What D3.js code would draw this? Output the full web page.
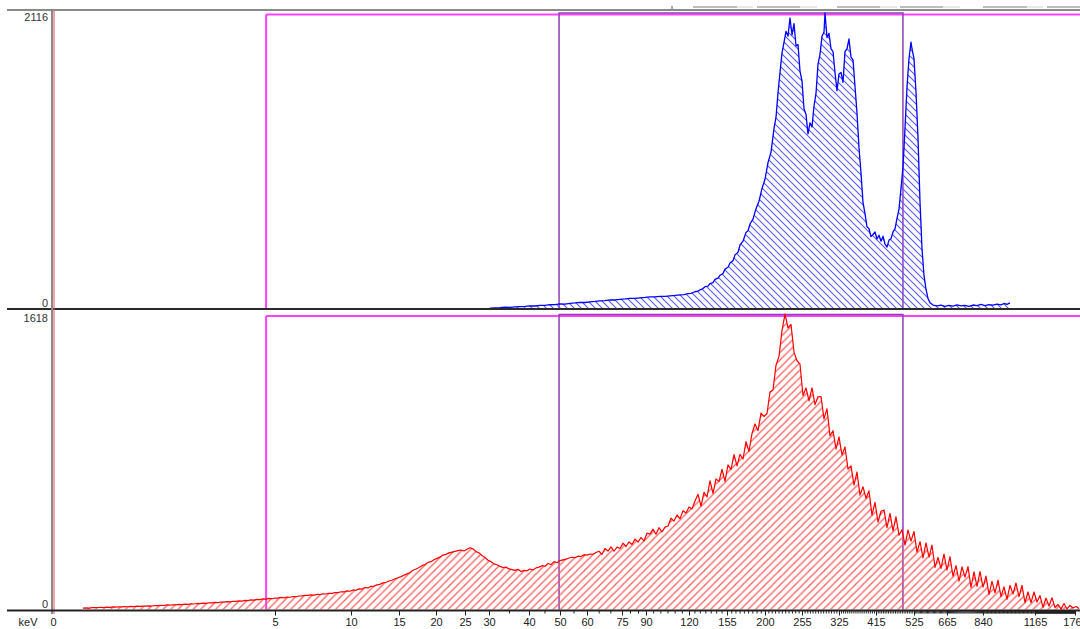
<!DOCTYPE html>
<html><head><meta charset="utf-8">
<script src="https://cdn.jsdelivr.net/npm/d3@7"></script>
<style>
body{margin:0;background:#fff;overflow:hidden}
svg{display:block}
text{font-family:"Liberation Sans",Arial,sans-serif}
</style>
</head><body>
<svg id="chart" width="1080" height="629"></svg>
<script>
// ---------------- DATA ----------------
// energy calibration: labelled tick energies (keV) and the channel at which each sits
const tickLabelsKeV = [0,5,10,15,20,25,30,40,50,60,75,90,120,155,200,255,325,415,525,665,840,1165,1760];
const tickChannels  = [0,222,298,346,383,412,436,476,507,534,569,593,636,674,712,749,786,823,861,894,930,982,1022];
const minorTickStepKeV = 5;
const axisUnit = "keV";

const topMaxCount = 2116;
const bottomMaxCount = 1618;

// regions of interest (keV)
const roiWideKeV = [4.8, 1760];
const roiNarrowKeV = [49.7, 493];

// top spectrum (blue): [channel, counts]
const blueSpectrum = [
[437,3],[442,5],[447,6],[452,9],[457,8],[462,12],[467,14],[472,15],[477,19],[482,18],[487,23],[492,22],[497,27],[502,28],[507,33],[512,32],[517,37],[522,40],[527,44],[532,43],[537,48],[542,51],[547,55],[552,57],[557,62],[562,61],[567,66],[572,69],[577,73],[582,72],[587,76],[592,79],[597,83],[602,83],[607,87],[612,87],[617,91],[622,94],[627,98],[631,100],[635,106],[638,109],[642,120],[645,124],[647,134],[650,143],[652,156],[655,160],[657,178],[660,186],[662,208],[665,218],[667,238],[670,250],[672,282],[675,295],[677,326],[680,342],[682,384],[685,402],[687,455],[690,482],[693,545],[695,556],[697,605],[700,640],[703,715],[706,768],[709,860],[712,925],[715,1045],[718,1120],[721,1290],[723,1370],[725,1545],[727,1690],[729,1830],[731,1905],[733,1985],[735,1950],[737,2080],[739,1960],[741,2040],[743,1880],[745,1890],[747,1700],[749,1630],[751,1430],[753,1390],[755,1250],[757,1330],[759,1300],[761,1450],[763,1540],[765,1750],[767,1820],[769,1950],[771,1980],[772,2116],[774,1940],[776,1970],[778,1860],[780,1840],[782,1690],[784,1560],[786,1680],[788,1690],[790,1620],[792,1840],[794,1860],[796,1930],[798,1800],[800,1780],[802,1590],[804,1400],[806,1150],[808,970],[810,760],[812,680],[814,585],[816,572],[818,515],[820,530],[822,548],[824,498],[826,525],[828,482],[830,518],[832,462],[834,440],[836,490],[838,500],[840,548],[842,570],[844,645],[846,712],[848,860],[850,1015],[852,1290],[854,1585],[856,1790],[858,1908],[859,1860],[861,1790],[863,1550],[865,1220],[867,765],[869,430],[871,235],[873,138],[875,72],[877,42],[880,25],[884,18],[888,24],[892,15],[896,22],[900,17],[904,26],[908,19],[912,23],[916,16],[920,25],[924,20],[928,29],[932,21],[936,27],[940,24],[944,32],[948,26],[951,36],[954,29],[957,40]
];

// bottom spectrum (red): counts every redChannelStep channels from redStartChannel
const redStartChannel = 30;
const redChannelStep = 3;
const redCounts = [
8,9,8,10,10,11,12,11,13,12,14,13,15,14,16,15,17,16,18,17,19,18,20,19,22,21,23,22,25,24,26,25,28,27,29,28,31,30,33,32,
35,34,37,36,39,38,41,40,43,42,45,44,47,46,50,49,53,51,55,54,58,57,61,59,63,62,66,64,68,67,71,70,74,
75,78,77,80,79,83,82,86,85,89,88,93,92,97,96,102,100,107,105,113,112,120,118,127,128,135,138,146,149,156,160,168,174,
180,188,195,203,215,222,230,240,246,258,262,272,280,287,298,302,310,314,318,322,326,320,330,338,332,318,310,296,285,270,262,250,245,
236,230,232,222,218,214,220,208,214,212,222,216,228,232,240,236,252,246,262,256,268,272,276,282,286,284,292,290,300,298,304,302,312,
319,302,334,320,343,319,342,334,363,345,370,356,386,369,394,376,418,413,440,412,448,425,452,457,500,484,518,496,541,528,561,551,594,
631,566,641,616,705,636,715,700,768,701,792,766,848,786,849,824,919,865,964,1016,979,1075,1057,1073,1191,1202,1338,1386,1527,1618,1542,1561,1409,
1362,1343,1172,1213,1143,1213,1122,1165,1166,1044,1099,951,979,879,945,846,890,769,786,681,753,626,672,609,650,517,587,479,538,545,448,527,431,
508,407,437,353,435,374,427,314,372,283,365,287,353,231,285,225,303,215,289,182,240,155,234,177,235,121,206,127,207,123,183,83,154,
91,161,71,124,56,132,85,145,71,132,37,96,38,96,41,76,12,63,19,64,11,28,2,33,3,22,8,16,6
];

// ---------------- LAYOUT ----------------
const W = 1080, H = 629;
const frameLeft = 7;
const plotLeft = 53, plotRight = 1080;
const topPanel = {y0: 308.5, yMax: 13};
const botPanel = {y0: 609.5, yMax: 314};
const topBorderY = 10, separatorY = 309, axisY = 610.5;
const rulerY = 7;
const rulerDark = [[693,737],[757,800],[837,880],[900,943],[983,1027],[1047,1080]];
const rulerLight = [[737,753],[800,817],[880,897],[943,960],[1027,1043]];

const svg = d3.select("#chart");
const defs = svg.append("defs");

defs.append("pattern").attr("id","hatchBlue").attr("patternUnits","userSpaceOnUse")
  .attr("width",7).attr("height",7)
  .append("path").attr("d","M-1,6 l2,2 M0,0 l7,7 M6,-1 l2,2")
  .attr("stroke","#5a5aff").attr("stroke-width",1.1).attr("fill","none");
defs.append("pattern").attr("id","hatchRed").attr("patternUnits","userSpaceOnUse")
  .attr("width",7.5).attr("height",7.5)
  .append("path").attr("d","M-1,1 l2,-2 M0,7.5 l7.5,-7.5 M6.5,8.5 l2,-2")
  .attr("stroke","#ff5a5a").attr("stroke-width",1.2).attr("fill","none");

// scales
const x = d3.scaleLinear().domain([0, plotRight - plotLeft]).range([plotLeft, plotRight]);
const keVtoChannel = d3.scaleLinear().domain(tickLabelsKeV).range(tickChannels);
const xE = e => x(keVtoChannel(e));
const yTop = d3.scaleLinear().domain([0, topMaxCount]).range([topPanel.y0, topPanel.yMax]);
const yBot = d3.scaleLinear().domain([0, bottomMaxCount]).range([botPanel.y0, botPanel.yMax]);

// ruler decoration at very top
const ruler = svg.append("g");
rulerDark.forEach(s => ruler.append("line").attr("x1",s[0]).attr("x2",s[1]).attr("y1",rulerY).attr("y2",rulerY).attr("stroke","#7a7a7a").attr("stroke-width",1));
rulerLight.forEach(s => ruler.append("line").attr("x1",s[0]).attr("x2",s[1]).attr("y1",rulerY).attr("y2",rulerY).attr("stroke","#d0d0d0").attr("stroke-width",1));
ruler.append("line").attr("x1",672).attr("x2",672).attr("y1",6).attr("y2",9).attr("stroke","#555");

// ROI rectangles
function roi(panel, yTopLine) {
  const g = svg.append("g");
  const xl = xE(roiWideKeV[0]);
  g.append("line").attr("x1",xl).attr("x2",W).attr("y1",yTopLine+1.5).attr("y2",yTopLine+1.5)
    .attr("stroke","#ff40ff").attr("stroke-width",2);
  g.append("line").attr("x1",xl).attr("x2",xl).attr("y1",yTopLine+1.5).attr("y2",panel.y0)
    .attr("stroke","#ff40ff").attr("stroke-width",2);
  const a = xE(roiNarrowKeV[0]), b = xE(roiNarrowKeV[1]);
  g.append("path").attr("d",`M${a},${panel.y0}V${yTopLine}H${b}V${panel.y0}`)
    .attr("fill","none").attr("stroke","#9040b8").attr("stroke-width",1.5);
}
roi(topPanel, 13);
roi(botPanel, 314.5);

// spectra
const blueArea = d3.area().x(d => x(d[0])).y0(yTop(0)).y1(d => yTop(d[1]));
const blueLine = d3.line().x(d => x(d[0])).y(d => yTop(d[1]));
svg.append("path").datum(blueSpectrum).attr("d",blueArea).attr("fill","url(#hatchBlue)");
svg.append("path").datum(blueSpectrum).attr("d",blueLine).attr("fill","none")
  .attr("stroke","#0000ff").attr("stroke-width",1.3).attr("stroke-linejoin","round");

const redSpectrum = redCounts.map((c,i) => [redStartChannel + i*redChannelStep, c]);
const redArea = d3.area().x(d => x(d[0])).y0(yBot(0)).y1(d => yBot(d[1]));
const redLine = d3.line().x(d => x(d[0])).y(d => yBot(d[1]));
svg.append("path").datum(redSpectrum).attr("d",redArea).attr("fill","url(#hatchRed)");
svg.append("path").datum(redSpectrum).attr("d",redLine).attr("fill","none")
  .attr("stroke","#ff0000").attr("stroke-width",1.2).attr("stroke-linejoin","round");

// frame lines
svg.append("line").attr("x1",frameLeft).attr("x2",W).attr("y1",topBorderY).attr("y2",topBorderY)
  .attr("stroke","#8a8a8a").attr("stroke-width",2);
svg.append("line").attr("x1",frameLeft).attr("x2",W).attr("y1",separatorY).attr("y2",separatorY)
  .attr("stroke","#2a2a2a").attr("stroke-width",2);
svg.append("line").attr("x1",plotLeft-1).attr("x2",plotLeft-1).attr("y1",topBorderY).attr("y2",614)
  .attr("stroke","#8a8a8a").attr("stroke-width",2);
svg.append("line").attr("x1",plotLeft+1).attr("x2",plotLeft+1).attr("y1",topBorderY+1).attr("y2",614)
  .attr("stroke","#e05050").attr("stroke-width",1);

// y labels via axes
function yLabels(scale, maxV) {
  const g = svg.append("g").attr("transform",`translate(${plotLeft-4},0)`)
    .call(d3.axisLeft(scale).tickValues([0, maxV]).tickSize(0).tickPadding(1).tickFormat(d3.format("d")));
  g.select(".domain").remove();
  g.selectAll("text").attr("font-size",11).attr("fill","#333").attr("font-family","Liberation Sans, Arial, sans-serif")
    .attr("dy", d => d === 0 ? "-0.15em" : "0.72em");
}
yLabels(yTop, topMaxCount);
yLabels(yBot, bottomMaxCount);

// x axis
const minorKeV = d3.range(minorTickStepKeV, tickLabelsKeV[tickLabelsKeV.length-1] + 1, minorTickStepKeV)
  .filter(e => !tickLabelsKeV.includes(e));
const gMinor = svg.append("g").attr("transform",`translate(0,${axisY})`)
  .call(d3.axisBottom(x).tickValues(minorKeV.map(e => keVtoChannel(e))).tickSize(3).tickFormat(""));
gMinor.select(".domain").remove();
gMinor.selectAll("line").attr("stroke","#222");
const gMajor = svg.append("g").attr("transform",`translate(0,${axisY})`)
  .call(d3.axisBottom(x).tickValues(tickChannels).tickSize(5).tickPadding(3)
        .tickFormat((d,i) => tickLabelsKeV[i]));
gMajor.select(".domain").remove();
gMajor.selectAll("line").attr("stroke","#222");
gMajor.selectAll("text").attr("font-size",11).attr("fill","#222").attr("font-family","Liberation Sans, Arial, sans-serif");
gMajor.selectAll(".tick").filter(d => d === 0).select("line").remove();

svg.append("line").attr("x1",frameLeft).attr("x2",W).attr("y1",axisY).attr("y2",axisY)
  .attr("stroke","#222").attr("stroke-width",2);
svg.append("text").attr("x",28).attr("y",626).attr("text-anchor","middle")
  .attr("font-size",11).attr("fill","#222").text(axisUnit);
</script>
</body></html>
